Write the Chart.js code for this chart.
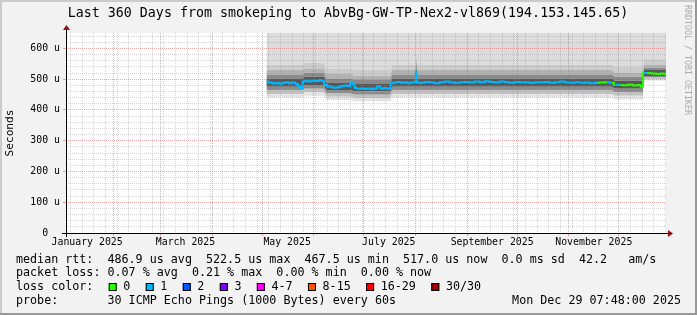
<!DOCTYPE html>
<html>
<head>
<meta charset="utf-8">
<script src="https://cdn.jsdelivr.net/npm/chart.js@4.4.1/dist/chart.umd.min.js"></script>
<style>
  html, body { margin: 0; padding: 0; background: #f2f2f2; }
  canvas { display: block; }
</style>
</head>
<body>
<canvas id="chart" width="697" height="315"></canvas>
<script>
// x values are days since 1 Jan 2025
const medianDays = [
  122.6, 125, 127, 129, 131, 133, 135, 137, 139, 141,
  142, 143.5, 145, 147, 149, 151, 153, 155, 156.5, 158,
  160, 162, 164, 166, 168, 170, 172, 173.5, 175, 176,
  178, 180, 182, 184, 186, 188, 190, 192, 194, 196,
  198, 200, 202, 204, 206, 208, 210, 212, 212.5, 213,
  216, 219, 222, 225, 228, 231, 234, 237, 240, 243,
  246, 249, 252, 255, 258, 261, 264, 267, 270, 273,
  276, 279, 282, 285, 288, 291, 294, 297, 300, 303,
  306, 309, 312, 315, 318, 321, 324, 327, 330, 332,
  335, 338, 341, 344, 346, 348, 349, 351, 353, 355,
  358, 360, 362.3,
];
// median rtt in microseconds
const medianRtt = [
  492, 489, 486, 488, 485, 488, 490, 487, 489, 484,
  478, 471, 492, 495, 492, 496, 494, 497, 493, 481,
  476, 474, 472, 474, 477, 479, 478, 488, 484, 471,
  469, 470, 468, 470, 467, 470, 477, 469, 471, 469,
  487, 489, 491, 488, 490, 487, 489, 491, 524, 489,
  488, 491, 489, 487, 490, 492, 489, 488, 490, 491,
  489, 492, 490, 493, 491, 489, 492, 490, 488, 491,
  489, 490, 488, 490, 489, 491, 488, 490, 492, 489,
  488, 490, 488, 489, 487, 488, 489, 490, 488, 482,
  481, 480, 482, 479, 481, 475, 521, 520, 519, 518,
  517, 518, 517,
];
// lost pings per sample (picks the line colour)
const medianLoss = [
  1, 1, 1, 1, 1, 1, 1, 1, 1, 1,
  1, 1, 1, 1, 1, 1, 1, 1, 1, 1,
  1, 1, 1, 1, 1, 1, 1, 1, 1, 1,
  1, 1, 1, 1, 1, 1, 1, 1, 1, 1,
  1, 1, 1, 1, 1, 1, 1, 1, 1, 1,
  1, 1, 1, 1, 1, 1, 1, 1, 1, 1,
  1, 1, 1, 1, 1, 1, 1, 1, 1, 1,
  1, 1, 1, 1, 1, 1, 1, 1, 1, 1,
  1, 1, 1, 1, 1, 1, 0, 0, 1, 0,
  1, 0, 0, 0, 0, 0, 0, 1, 0, 0,
  0, 0, 0,
];

// smoke (ping spread) levels, bottom to top
const smokeDays = [122.6, 144.5, 145.5, 157, 158.5, 173, 175.5, 197, 198, 212, 212.5, 213, 330, 331.5, 348.5, 349, 362.3];
const smoke0 = [440, 440, 446, 446, 432, 432, 428, 428, 440, 440, 440, 440, 440, 434, 434, 496, 496];
const smoke1 = [452, 452, 458, 458, 443, 443, 439, 439, 452, 452, 452, 452, 452, 446, 446, 500, 500];
const smoke2 = [463, 463, 469, 469, 453, 453, 449, 449, 463, 463, 463, 463, 463, 457, 457, 505, 505];
const smoke3 = [475, 475, 481, 481, 465, 465, 460, 460, 475, 475, 475, 475, 475, 469, 469, 510, 510];
const smoke4 = [502, 502, 508, 508, 489, 489, 484, 484, 502, 502, 555, 502, 502, 495, 495, 530, 530];
const smoke5 = [515, 515, 521, 521, 502, 502, 497, 497, 515, 515, 565, 515, 515, 508, 508, 537, 537];
const smoke6 = [530, 530, 535, 535, 517, 517, 512, 512, 530, 530, 575, 530, 530, 522, 522, 546, 546];
const smoke7 = [548, 548, 553, 553, 535, 535, 530, 530, 548, 548, 590, 548, 548, 541, 541, 565, 565];

const monthStarts = [0, 31, 59, 90, 120, 151, 181, 212, 243, 273, 304, 334];
const labelDays = [15, 74, 135, 196, 258, 319];
const labelNames = ["January 2025", "March 2025", "May 2025", "July 2025", "September 2025", "November 2025"];

const lossLabels = ["0", "1", "2", "3", "4-7", "8-15", "16-29", "30/30"];
const lossColors = ["#26ff00", "#00b8ff", "#0059ff", "#7e00ff", "#ff00ff", "#ff5500", "#ff0000", "#a10000"];

const titleText = "Last 360 Days from smokeping to AbvBg-GW-TP-Nex2-vl869(194.153.145.65)";
const rttLine = "median rtt:  486.9 us avg  522.5 us max  467.5 us min  517.0 us now  0.0 ms sd  42.2   am/s";
const lossLine = "packet loss: 0.07 % avg  0.21 % max  0.00 % min  0.00 % now";
const probeText = "30 ICMP Echo Pings (1000 Bytes) every 60s";
const stampText = "Mon Dec 29 07:48:00 2025";

const FONT = "'DejaVu Sans Mono', monospace";
const MINOR = "rgba(140,140,140,0.35)";
const MAJOR = "rgba(215,60,60,0.45)";

const pts = (xs, ys) => xs.map((x, i) => ({ x: x, y: ys[i] }));

function band(data, fill, color) {
  return {
    data: data,
    fill: fill,
    backgroundColor: color,
    borderWidth: 0,
    pointRadius: 0,
    tension: 0,
  };
}

const rrdFrame = {
  id: "rrdFrame",
  beforeDraw(chart) {
    const { ctx, chartArea: a } = chart;
    ctx.save();
    ctx.fillStyle = "#f2f2f2";
    ctx.fillRect(0, 0, chart.width, chart.height);
    ctx.fillStyle = "#ffffff";
    ctx.fillRect(a.left, a.top, a.right - a.left, a.bottom - a.top);
    ctx.restore();
  },
  afterDraw(chart) {
    const { ctx, chartArea: a } = chart;
    ctx.save();

    // axes + arrows
    ctx.strokeStyle = "#000";
    ctx.lineWidth = 1;
    ctx.beginPath();
    ctx.moveTo(a.left - 4, a.bottom + 0.5);
    ctx.lineTo(a.right + 2, a.bottom + 0.5);
    ctx.moveTo(a.left + 0.5, a.bottom + 4);
    ctx.lineTo(a.left + 0.5, a.top - 3);
    ctx.stroke();
    ctx.fillStyle = "#8b1010";
    ctx.beginPath();
    ctx.moveTo(a.right + 2, a.bottom - 3);
    ctx.lineTo(a.right + 7, a.bottom + 0.5);
    ctx.lineTo(a.right + 2, a.bottom + 4);
    ctx.fill();
    ctx.beginPath();
    ctx.moveTo(a.left - 3, a.top - 3);
    ctx.lineTo(a.left + 0.5, a.top - 8);
    ctx.lineTo(a.left + 4, a.top - 3);
    ctx.fill();

    // title
    ctx.fillStyle = "#000";
    ctx.textBaseline = "middle";
    ctx.textAlign = "center";
    ctx.font = "13.3px " + FONT;
    ctx.fillText(titleText, 348, 14);

    // y title
    ctx.save();
    ctx.translate(10, 133);
    ctx.rotate(-Math.PI / 2);
    ctx.font = "11.2px " + FONT;
    ctx.fillText("Seconds", 0, 0);
    ctx.restore();

    // legend block
    ctx.textAlign = "left";
    ctx.font = "11.7px " + FONT;
    ctx.fillText(rttLine, 16, 259.7);
    ctx.fillText(lossLine, 16, 273.3);
    ctx.fillText("loss color:", 16, 287.3);
    ctx.fillText("probe:", 16, 301.3);
    ctx.fillText(probeText, 107.5, 301.3);
    ctx.textAlign = "right";
    ctx.fillText(stampText, 681, 301.3);

    ctx.textAlign = "left";
    let bx = 108.7;
    lossLabels.forEach((lab, i) => {
      ctx.fillStyle = lossColors[i];
      ctx.fillRect(bx, 283, 8, 8);
      ctx.strokeStyle = "#000";
      ctx.strokeRect(bx + 0.5, 283.5, 7, 7);
      ctx.fillStyle = "#000";
      ctx.fillText(lab, bx + 14.6, 287.3);
      bx += 14.6 + ctx.measureText(lab).width + 15.4;
    });

    // watermark
    ctx.save();
    ctx.translate(687.5, 5);
    ctx.rotate(Math.PI / 2);
    ctx.font = "8.3px " + FONT;
    ctx.fillStyle = "#ababab";
    ctx.fillText("RRDTOOL / TOBI OETIKER", 0, 0);
    ctx.restore();

    // shaded frame
    ctx.fillStyle = "#cbcbcb";
    ctx.fillRect(0, 0, chart.width, 2);
    ctx.fillRect(0, 0, 2, chart.height);
    ctx.fillStyle = "#999999";
    ctx.fillRect(0, chart.height - 2, chart.width, 2);
    ctx.fillRect(chart.width - 2, 0, 2, chart.height);
    ctx.restore();
  },
};

new Chart(document.getElementById("chart"), {
  type: "line",
  data: {
    datasets: [
      band(pts(smokeDays, smoke0), false, "transparent"),
      band(pts(smokeDays, smoke1), "-1", "#e4e4e4"),
      band(pts(smokeDays, smoke2), "-1", "#c2c2c2"),
      band(pts(smokeDays, smoke3), "-1", "#8c8c8c"),
      band(pts(smokeDays, smoke4), "-1", "#575757"),
      band(pts(smokeDays, smoke5), "-1", "#8a8a8a"),
      band(pts(smokeDays, smoke6), "-1", "#b2b2b2"),
      band(pts(smokeDays, smoke7), "-1", "#cdcdcd"),
      band(pts(smokeDays, smoke7), "end", "#dcdcdc"),
      {
        data: pts(medianDays, medianRtt),
        order: -1,
        fill: false,
        borderWidth: 2,
        pointRadius: 0,
        stepped: "middle",
        borderColor: lossColors[1],
        segment: {
          borderColor: (c) => lossColors[medianLoss[c.p1DataIndex]],
        },
      },
    ],
  },
  options: {
    responsive: false,
    animation: false,
    devicePixelRatio: 1,
    layout: { padding: { top: 33, right: 31, bottom: 62, left: 0 } },
    plugins: { legend: { display: false }, tooltip: { enabled: false } },
    scales: {
      x: {
        type: "linear",
        min: 2.33,
        max: 362.33,
        afterFit: (s) => { s.height = 20; },
        afterBuildTicks: (s) => {
          const t = [];
          for (let d = 5; d <= 362; d += 7) {
            if (!monthStarts.includes(d)) t.push({ value: d, kind: "week" });
          }
          monthStarts.forEach((d) => { if (d >= 2.33) t.push({ value: d, kind: "month" }); });
          labelDays.forEach((d, i) => t.push({ value: d, kind: "label", text: labelNames[i] }));
          t.sort((p, q) => p.value - q.value);
          s.ticks = t;
        },
        grid: {
          z: 1,
          lineWidth: 1,
          tickLength: 3,
          color: (c) => c.tick.kind === "month" ? MAJOR : c.tick.kind === "week" ? MINOR : "transparent",
          tickColor: (c) => c.tick.kind === "month" ? MAJOR : "transparent",
        },
        border: { display: false, dash: [1, 1] },
        ticks: {
          autoSkip: false,
          maxRotation: 0,
          minRotation: 0,
          padding: 1,
          color: "#000",
          font: { family: "DejaVu Sans Mono", size: 9.85 },
          callback: (v, i, ticks) => ticks[i].kind === "label" ? ticks[i].text : "",
        },
      },
      y: {
        type: "linear",
        min: 0,
        max: 650,
        afterFit: (s) => { s.width = 66; },
        afterBuildTicks: (s) => {
          const t = [];
          for (let v = 0; v <= 640; v += 20) t.push({ value: v });
          s.ticks = t;
        },
        grid: {
          z: 1,
          lineWidth: 1,
          tickLength: 3,
          color: (c) => c.tick.value % 100 === 0 ? MAJOR : MINOR,
          tickColor: (c) => c.tick.value % 100 === 0 ? MAJOR : "transparent",
        },
        border: { display: false, dash: [1, 1] },
        ticks: {
          autoSkip: false,
          padding: 3,
          color: "#000",
          font: { family: "DejaVu Sans Mono", size: 9.85 },
          callback: (v) => v % 100 === 0 ? (v === 0 ? "0  " : v + " u") : "",
        },
      },
    },
  },
  plugins: [rrdFrame],
});
</script>
</body>
</html>
